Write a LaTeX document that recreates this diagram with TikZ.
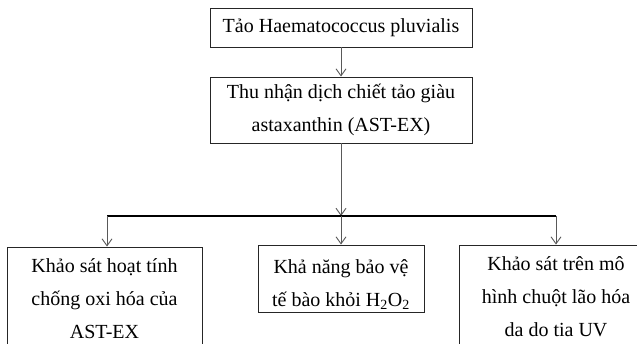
\documentclass[tikz,border=0pt]{standalone}
\usepackage{fontspec}
\setmainfont{Liberation Serif}
\usetikzlibrary{arrows.meta}

\begin{document}
\begin{tikzpicture}[x=1pt,y=-1pt,box/.style={rectangle,draw=black!85,line width=0.9pt,align=center,inner sep=0pt,font=\fontsize{20}{33}\selectfont},link/.style={draw=black!65,line width=0.9pt,-{Straight Barb[length=7pt,width=10pt]}},bar/.style={draw=black,line width=2pt}]
        \useasboundingbox (0,0) rectangle (637,344);
        \node[box,minimum width=262,minimum height=39] (algae) at (341,27.5) {Tảo Haematococcus pluvialis};
        \node[box,minimum width=262,minimum height=66] (extract) at (341,110) {Thu nhận dịch chiết tảo giàu\\astaxanthin (AST-EX)};
        \node[box,minimum width=195,minimum height=104] (antiox) at (104.5,299) {Khảo sát hoạt tính\\chống oxi hóa của\\AST-EX};
        \node[box,minimum width=166,minimum height=67] (protect) at (341,278.5) {\rule{0pt}{26pt}Khả năng bảo vệ\\tế bào khỏi H\textsubscript{2}O\textsubscript{2}};
        \node[box,minimum width=194,minimum height=104] (mouse) at (556,297) {Khảo sát trên mô\\hình chuột lão hóa\\da do tia UV};
        \coordinate (barL) at (107,216);
        \coordinate (barM) at (341,216);
        \coordinate (barR) at (556,216);
        \draw [link] (algae.south) -- (extract.north);
        \draw [link] (extract.south) -- (barM);
        \draw [bar] (barL) -- (barR);
        \draw [link] (barL) -- (barL |- antiox.north);
        \draw [link] (barM) -- (protect.north);
        \draw [link] (barR) -- (mouse.north);
    \end{tikzpicture}
\end{document}
